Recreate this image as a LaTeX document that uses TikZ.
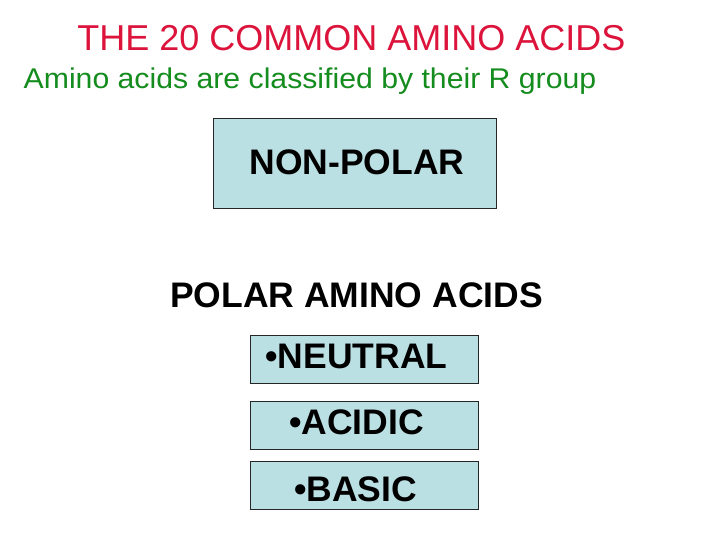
\documentclass[tikz,border=0pt]{standalone}
\usepackage{fontspec}
\setmainfont{Liberation Sans}
\newfontfamily\subfont[FakeStretch=1.06]{Liberation Sans}
\definecolor{titlered}{RGB}{220,20,60}
\definecolor{subgreen}{RGB}{20,140,30}
\definecolor{boxfill}{RGB}{187,224,228}
\begin{document}
\begin{tikzpicture}[x=1pt,y=-1pt,
  catbox/.style={draw=black!85,line width=0.8pt,fill=boxfill,inner sep=0pt},
  bigtext/.style={inner sep=0pt,anchor=base,font=\fontsize{35.5}{40}\selectfont\bfseries},
  ]
\useasboundingbox (0,0) rectangle (720,540);
\fill[white] (0,0) rectangle (720,540);
% titles
\node[inner sep=0pt,anchor=base,text=titlered,font=\fontsize{36}{40}\selectfont] (title) at (351.5,51) {THE 20 COMMON AMINO ACIDS};
\node[inner sep=0pt,anchor=base,text=subgreen,font=\subfont\fontsize{28.5}{34}\selectfont] (subtitle) at (310,88.5) {Amino acids are classified by their R group};
% boxes
\node[catbox,minimum width=283pt,minimum height=90pt] (npbox) at (354.5,163) {};
\node[catbox,minimum width=228pt,minimum height=48pt] (neubox) at (364,359) {};
\node[catbox,minimum width=228pt,minimum height=48pt] (acibox) at (364,425) {};
\node[catbox,minimum width=228pt,minimum height=48pt] (basbox) at (364,485) {};
% texts
\node[bigtext] (np) at (357,175) {NON-POLAR};
\node[bigtext] (polar) at (356.5,307) {POLAR AMINO ACIDS};
\node[bigtext] (neu) at (356.5,368) {•NEUTRAL};
\node[bigtext] (aci) at (356.5,434) {•ACIDIC};
\node[bigtext] (bas) at (355.5,501) {•BASIC};
\end{tikzpicture}
\end{document}
